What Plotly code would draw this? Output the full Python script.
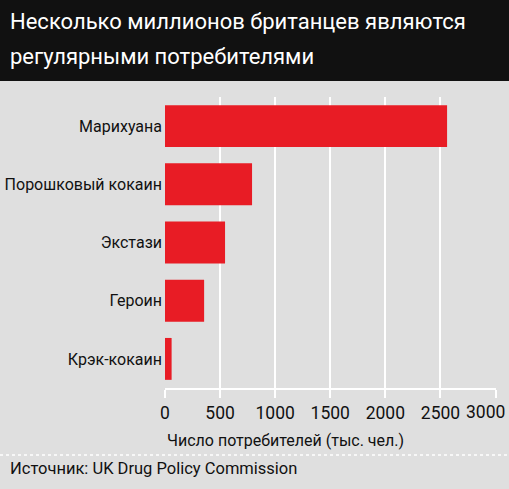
import plotly.graph_objects as go

categories = ["Марихуана", "Порошковый кокаин", "Экстази", "Героин", "Крэк-кокаин"]
values = [2560, 790, 545, 355, 60]
tick_vals = [0, 500, 1000, 1500, 2000, 2500, 3000]

title_lines = ["Несколько миллионов британцев являются", "регулярными потребителями"]
x_title = "Число потребителей (тыс. чел.)"
source_text = "Источник: UK Drug Policy Commission"

FONT = "Roboto, Liberation Sans, sans-serif"
BG = "#dfdfdf"
RED = "#e81c25"

W, H = 509, 489
L, R, T, B = 165, 13, 97, 101
PW, PH = W - L - R, H - T - B


def px_x(x):
    return (x - L) / PW


def px_y(y):
    return (H - B - y) / PH


# last tick label is nudged left inside the picture (as in the original layout)
tick_text = [str(v) for v in tick_vals[:-1]] + [""]

fig = go.Figure(go.Bar(
    y=categories[::-1], x=values[::-1], orientation="h",
    marker=dict(color=RED, line=dict(width=0)), width=0.72,
))

annotations = [
    dict(text=t, xref="paper", yref="paper", x=px_x(8), y=px_y(yc),
         xanchor="left", yanchor="middle", align="left", showarrow=False,
         font=dict(size=22, color="white", family=FONT))
    for t, yc in zip(title_lines, [21, 56])
]
annotations += [
    dict(text=str(tick_vals[-1]), xref="x", yref="paper", x=tick_vals[-1], xshift=-10,
         y=px_y(411.5), xanchor="center", yanchor="middle", showarrow=False,
         font=dict(size=17.5, color="#111111", family=FONT)),
    dict(text=x_title, xref="paper", yref="paper", x=px_x(165), y=px_y(440),
         xanchor="left", yanchor="middle", showarrow=False,
         font=dict(size=16, color="#111111", family=FONT)),
    dict(text=source_text, xref="paper", yref="paper", x=px_x(8), y=px_y(469),
         xanchor="left", yanchor="middle", showarrow=False,
         font=dict(size=16.5, color="#111111", family=FONT)),
]

fig.update_layout(
    width=W, height=H,
    margin=dict(l=L, r=R, t=T, b=B, pad=0, autoexpand=False),
    paper_bgcolor=BG, plot_bgcolor=BG,
    font=dict(family=FONT, color="#111111", size=16),
    showlegend=False,
    xaxis=dict(range=[0, 3004], tickvals=tick_vals, ticktext=tick_text,
               showgrid=True, gridcolor="white", gridwidth=1.5, zeroline=False,
               showline=True, linecolor="white", linewidth=1.5,
               ticks="outside", ticklen=8, tickcolor="white", tickwidth=1.5,
               tickfont=dict(size=17.5), ticklabeloverflow="allow",
               automargin=False, fixedrange=True),
    yaxis=dict(showgrid=False, ticks="", tickfont=dict(size=16), automargin=False,
               ticklabelstandoff=2, fixedrange=True),
    shapes=[
        dict(type="rect", xref="paper", yref="paper", x0=px_x(0), x1=px_x(W),
             y0=px_y(81), y1=px_y(0), fillcolor="#111111",
             line=dict(width=0), layer="below"),
        dict(type="line", xref="paper", yref="paper", x0=px_x(0), x1=px_x(W),
             y0=px_y(455), y1=px_y(455),
             line=dict(color="white", width=1.5, dash="dot")),
    ],
    annotations=annotations,
)

fig.write_html("out.html")
